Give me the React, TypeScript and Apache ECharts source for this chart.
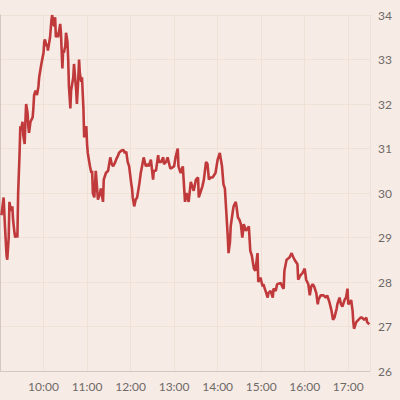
import React, { useEffect, useRef } from "react";
import * as echarts from "echarts";

// minutes after 09:00
const minutes = [
  2, 5, 7, 9, 10, 12, 13, 14, 16, 17, 18, 20, 21, 23, 24, 25, 27, 28, 29, 31, 32, 34, 35, 36, 38, 39, 40, 42, 45, 46, 47, 49, 51, 53, 54, 57,
  60, 61, 62, 64, 65, 66, 68, 69, 71, 72, 73, 75, 76, 77, 79, 80, 82, 83, 84, 86, 87, 88, 90, 91, 93, 94, 95, 97, 98, 99, 101, 102, 104, 105,
  106, 108, 109, 110, 112, 113, 115, 116, 117, 119, 120, 121, 123, 124, 126, 127, 128, 130, 132, 135, 138, 139, 142, 143, 146, 149, 150, 152,
  154, 156, 159, 160, 163, 164, 167, 170, 172, 174, 176, 178, 181, 182, 183, 185, 187, 189, 192, 194, 197, 198, 201, 204, 205, 208, 211, 212,
  215, 218, 219, 222, 225, 226, 229, 231, 234, 235, 240, 242, 245, 246, 249, 252, 255, 256, 257, 260, 263, 266, 267, 270, 273, 274, 277, 279,
  281, 284, 286, 288, 290, 293, 297, 300, 303, 304, 306, 308, 310, 312, 314, 315, 317, 318, 321, 322, 325, 326, 328, 330, 332, 334, 336, 339,
  341, 343, 345, 347, 350, 352, 355, 356, 359, 362, 363, 366, 369, 370, 373, 376, 377, 380, 382, 387, 389, 391, 392, 395, 399, 402, 403, 406,
  410, 411, 414, 417, 420, 422, 425, 427, 429, 431, 433, 436, 438, 439, 442, 446, 449, 451, 454, 457, 459, 461, 464, 465, 468, 470, 472, 475,
  477, 479, 480, 483, 484, 486, 487, 488, 491, 494, 497, 499, 502, 505, 506, 509,
];

const prices = [
  29.5, 29.9, 29.2, 28.6, 28.5, 29.0, 29.8, 29.7, 29.6, 29.7, 29.4, 29.1, 29.0, 29.1, 29.0, 30.0, 30.9, 31.5, 31.4, 31.6, 31.3, 31.1, 31.6, 32.0,
  31.8, 31.5, 31.35, 31.6, 31.7, 31.9, 32.2, 32.3, 32.2, 32.4, 32.6, 32.9,
  33.15, 33.4, 33.45, 33.3, 33.35, 33.2, 33.4, 33.5, 33.9, 34.0, 33.8, 33.75, 33.95, 33.5, 33.6, 33.5, 33.7, 33.8, 33.6, 32.8, 33.2, 33.15, 33.3,
  33.6, 33.4, 33.0, 32.4, 31.9, 32.3, 32.4, 32.6, 32.9, 32.5, 32.3,
  32.0, 32.6, 33.0, 32.7, 32.5, 32.6, 31.9, 31.25, 31.4, 31.5, 31.1, 30.9, 30.7, 30.6, 30.45, 30.5, 30.0, 29.9, 30.5, 29.85, 30.0, 30.1, 29.8,
  30.3, 30.45, 30.5, 30.6, 30.8,
  30.65, 30.6, 30.7, 30.75, 30.85, 30.9, 30.95, 30.97, 30.9, 30.93, 30.7, 30.6, 30.2, 30.1, 29.9, 29.7, 29.85, 29.9, 30.2, 30.45, 30.7, 30.8,
  30.6, 30.65, 30.6, 30.75, 30.3, 30.5,
  30.5, 30.85, 30.7, 30.7, 30.8, 30.65, 30.7, 30.8, 30.6, 30.55, 30.6, 30.8, 31.0, 30.6, 30.45, 30.6, 29.8, 29.9, 30.0, 29.8, 30.25, 30.1, 30.05,
  30.3, 30.35, 29.9, 30.05, 30.15,
  30.3, 30.7, 30.65, 30.3, 30.35, 30.35, 30.45, 30.75, 30.9, 30.8, 30.6, 30.2, 30.1, 29.55, 29.0, 28.65, 28.9, 29.25, 29.6, 29.7, 29.8, 29.7,
  29.45, 29.4, 29.3, 29.0, 29.3, 29.15,
  29.2, 29.25, 28.7, 28.6, 28.3, 28.25, 28.65, 28.0, 28.1, 27.9, 27.95, 27.8, 27.65, 27.75, 27.8, 27.65, 27.85, 27.8, 27.95, 27.98, 27.9, 27.85,
  28.25, 28.5, 28.55, 28.65, 28.6, 28.5,
  28.4, 28.05, 28.15, 28.2, 28.3, 28.05, 27.95, 27.7, 27.9, 27.95, 27.9, 27.75, 27.5, 27.6, 27.7, 27.7, 27.65, 27.7, 27.55, 27.35, 27.15, 27.2,
  27.4, 27.5, 27.65, 27.5, 27.45, 27.6,
  27.65, 27.85, 27.5, 27.55, 27.6, 27.35, 27.1, 26.95, 27.1, 27.15, 27.2, 27.2, 27.15, 27.2, 27.1, 27.05,
];

const xMin = 0; // 09:00
const xMax = 510; // 17:30
const yMin = 26;
const yMax = 34;

export default function App() {
  const ref = useRef<HTMLDivElement>(null);
  useEffect(() => {
    if (!ref.current) return;
    const chart = echarts.init(ref.current, undefined, { renderer: "svg" });
    const data = minutes.map((m, i) => [m, prices[i]]);
    chart.setOption({
      animation: false,
      backgroundColor: "#f7ebe5",
      grid: { left: -1.4, right: 30, top: 15, bottom: 29, containLabel: false },
      xAxis: {
        type: "value",
        min: xMin,
        max: xMax,
        interval: 60,
        axisLine: { show: true, lineStyle: { color: "#d6c8c0", width: 1 } },
        axisTick: { show: false },
        splitLine: { show: true, lineStyle: { color: "#f0e1d7", width: 1 } },
        axisLabel: {
          showMinLabel: false,
          showMaxLabel: false,
          margin: 9,
          color: "#6e6a68",
          fontFamily: "Lato",
          fontSize: 12,
          formatter: (v: number) => (v === 0 || v % 60 !== 0 ? "" : `${9 + v / 60}:00`),
        },
      },
      yAxis: {
        type: "value",
        position: "right",
        min: yMin,
        max: yMax,
        interval: 1,
        axisLine: { show: true, lineStyle: { color: "#d6c8c0", width: 1 } },
        axisTick: { show: false },
        splitLine: { show: true, lineStyle: { color: "#f0e1d7", width: 1 } },
        axisLabel: {
          margin: 8,
          color: "#6e6a68",
          fontFamily: "Lato",
          fontSize: 12,
        },
      },
      series: [
        {
          type: "line",
          data,
          showSymbol: false,
          lineStyle: { color: "#c03a3c", width: 2.6 },
          z: 3,
        },
      ],
    });
    return () => chart.dispose();
  }, []);
  return (
    <div
      ref={ref}
      style={{ position: "fixed", left: 0, top: 0, width: 400, height: 400 }}
    />
  );
}
